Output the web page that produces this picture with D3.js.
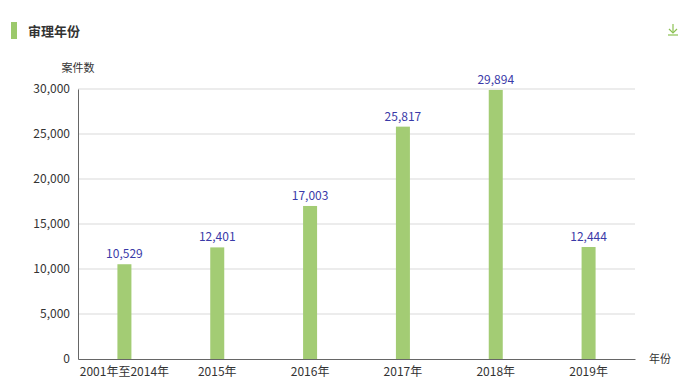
<!DOCTYPE html>
<html><head><meta charset="utf-8">
<script src="https://cdn.jsdelivr.net/npm/d3@7"></script>
<style>body{margin:0;background:#fff;font-family:"Microsoft YaHei","Noto Sans CJK SC",sans-serif;}</style>
</head><body>
<svg id="c" width="693" height="392"></svg>
<script>
const categories = ["2001年至2014年","2015年","2016年","2017年","2018年","2019年"];
const values = [10529,12401,17003,25817,29894,12444];
const yTicks = [0,5000,10000,15000,20000,25000,30000];

const svg = d3.select("#c");
const font = '"Noto Sans CJK SC", sans-serif';
const m = {l:78, r:635, t:89, b:359};
const x = d3.scaleBand().domain(categories).range([m.l, m.r]);
const y = d3.scaleLinear().domain([0,30000]).range([m.b, m.t]);

// title
svg.append("rect").attr("x",11).attr("y",22).attr("width",6).attr("height",17).attr("fill","#9cc96b");
svg.append("text").attr("x",28).attr("y",36).attr("font-family",font).attr("font-size",13).attr("font-weight","bold").attr("fill","#333").text("审理年份");
// download icon
const ic = svg.append("g").attr("stroke","#8cc152").attr("stroke-width",1.2).attr("fill","none");
ic.append("line").attr("x1",673).attr("y1",24).attr("x2",673).attr("y2",33);
ic.append("polyline").attr("points","669,29 673,33 677,29");
ic.append("line").attr("x1",668).attr("y1",35).attr("x2",678).attr("y2",35);

// grid
svg.append("g").selectAll("line").data(yTicks.filter(d=>d>0)).join("line")
  .attr("x1",m.l).attr("x2",m.r).attr("y1",d=>y(d)).attr("y2",d=>y(d))
  .attr("stroke","#d9d9d9").attr("stroke-width",1);

// y axis
const ya = svg.append("g").attr("transform",`translate(${m.l},0)`)
  .call(d3.axisLeft(y).tickValues(yTicks).tickFormat(d3.format(",")).tickSize(0).tickPadding(8));
ya.select(".domain").attr("stroke","#666");
ya.selectAll("text").attr("font-family",font).attr("font-size",12).attr("fill","#333");

// x axis
const xa = svg.append("g").attr("transform",`translate(0,${m.b})`)
  .call(d3.axisBottom(x).tickSize(0).tickPadding(8));
xa.select(".domain").attr("stroke","#666");
xa.selectAll("text").attr("font-family",font).attr("font-size",12).attr("fill","#333");

// bars
const bw = 14;
svg.append("g").selectAll("rect").data(values).join("rect")
  .attr("x",(d,i)=>x(categories[i])+x.bandwidth()/2-bw/2)
  .attr("y",d=>y(d)).attr("width",bw).attr("height",d=>m.b-y(d))
  .attr("fill","#a3cc74");

// labels
svg.append("g").selectAll("text").data(values).join("text")
  .attr("x",(d,i)=>x(categories[i])+x.bandwidth()/2)
  .attr("y",d=>y(d)-6).attr("text-anchor","middle")
  .attr("font-family",font).attr("font-size",12).attr("fill","#3a3aa8")
  .text(d=>d3.format(",")(d));

// axis names
svg.append("text").attr("x",78).attr("y",72).attr("text-anchor","middle").attr("font-family",font).attr("font-size",11).attr("fill","#333").text("案件数");
svg.append("text").attr("x",649).attr("y",363).attr("font-family",font).attr("font-size",11).attr("fill","#333").text("年份");
</script>
</body></html>
